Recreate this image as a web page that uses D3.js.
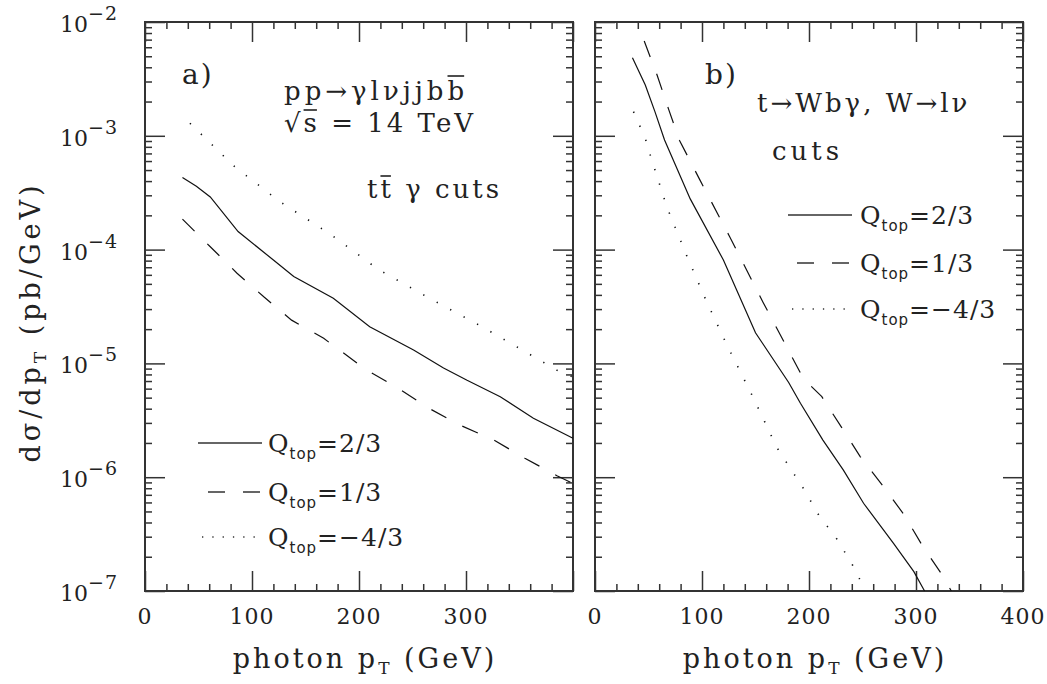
<!DOCTYPE html>
<html lang="en">
<head>
<meta charset="UTF-8">
<title>photon pT spectra</title>
<script src="https://cdn.jsdelivr.net/npm/d3@7"></script>
<style>
  body { margin: 0; background: #fff; }
  text { font-family: "DejaVu Serif", serif; fill: #222; }
</style>
</head>
<body>
<svg></svg>
<script>
// panel a) pp -> gamma l nu jj b bbar, ttbar-gamma cuts   [pT (GeV), dsigma/dpT (pb/GeV)]
var aQ23 = [[35, 4.3e-4], [48, 3.6e-4], [61, 2.9e-4], [87, 1.44e-4], [120, 8.1e-5], [139, 5.8e-5], [176, 3.73e-5],
            [210, 2.1e-5], [251, 1.31e-5], [279, 9.1e-6], [301, 7.1e-6], [332, 5.1e-6], [363, 3.3e-6], [400, 2.2e-6]];
var aQ13 = [[35, 1.85e-4], [61, 1.06e-4], [86, 6.2e-5], [111, 3.85e-5], [137, 2.4e-5], [167, 1.66e-5],
            [207, 8.75e-6], [235, 6.2e-6], [266, 4.0e-6], [294, 2.88e-6], [326, 2.12e-6], [355, 1.47e-6],
            [385, 1.03e-6], [400, 8.8e-7]];
var aQm43 = [[42, 1.29e-3], [83, 5.43e-4], [126, 2.64e-4], [173, 1.37e-4], [218, 6.7e-5], [266, 3.73e-5],
             [315, 2.1e-5], [363, 1.15e-5], [386, 8.6e-6], [400, 7.6e-6]];

// panel b) t -> W b gamma, W -> l nu
var bQ23 = [[35, 4.85e-3], [47, 2.79e-3], [56, 1.63e-3], [65, 9.2e-4], [89, 2.79e-4], [120, 8.1e-5],
            [150, 1.86e-5], [181, 6.8e-6], [192, 4.46e-6], [213, 2.12e-6], [232, 1.16e-6], [251, 5.9e-7],
            [279, 2.62e-7], [298, 1.48e-7], [308, 1.0e-7]];
var bQ13 = [[46, 6.8e-3], [58, 3.42e-3], [69, 1.69e-3], [79, 9.1e-4], [98, 4.1e-4], [126, 1.29e-4],
            [157, 3.45e-5], [195, 7.3e-6], [212, 5.1e-6], [230, 2.78e-6], [248, 1.51e-6], [269, 8.4e-7],
            [289, 4.66e-7], [306, 2.5e-7], [325, 1.36e-7], [333, 1.0e-7]];
var bQm43 = [[36, 1.63e-3], [47, 9.5e-4], [51, 7.06e-4], [67, 2.39e-4], [86, 8.7e-5], [103, 3.72e-5],
             [123, 1.47e-5], [148, 4.98e-6], [170, 1.82e-6], [195, 7.9e-7], [209, 4.66e-7], [226, 2.86e-7],
             [240, 1.74e-7], [253, 1.0e-7]];

var yMajor = [1e-7, 1e-6, 1e-5, 1e-4, 1e-3, 1e-2];
var yExp = ['−7', '−6', '−5', '−4', '−3', '−2'];
var xMajorA = [0, 100, 200, 300];
var xMajorB = [0, 100, 200, 300, 400];
var legendLabels = ['2/3', '1/3', '−4/3'];

var yTop = 22, yBottom = 591;
var svg = d3.select('svg').attr('width', 1047).attr('height', 684);

var y = d3.scaleLog().domain([1e-7, 1e-2]).range([yBottom, yTop]);
var xA = d3.scaleLinear().domain([0, 400]).range([145, 573]);
var xB = d3.scaleLinear().domain([0, 400]).range([595, 1023]);

var yMinor = [];
yMajor.slice(0, 5).forEach(function (d) {
	for (var k = 2; k <= 9; k++) yMinor.push(d * k);
});
var xMinor = d3.range(20, 400, 20).filter(function (d) { return d % 100 !== 0; });

var dashes = {solid: null, dashed: '17,18', dotted: '1.3,14'};

function tickAxis(axis, vals, size, tr) {
	var g = svg.append('g').attr('transform', tr)
		.call(axis.tickValues(vals).tickSize(size).tickFormat(''));
	g.select('.domain').remove();
	g.selectAll('line').attr('stroke', '#333').attr('stroke-width', 1.5);
}

function frame(x) {
	var x0 = x.range()[0], x1 = x.range()[1];
	tickAxis(d3.axisRight(y), yMajor, 20, 'translate(' + x0 + ',0)');
	tickAxis(d3.axisRight(y), yMinor, 7, 'translate(' + x0 + ',0)');
	tickAxis(d3.axisLeft(y), yMajor, 20, 'translate(' + x1 + ',0)');
	tickAxis(d3.axisLeft(y), yMinor, 7, 'translate(' + x1 + ',0)');
	tickAxis(d3.axisTop(x), [0, 100, 200, 300, 400], 20, 'translate(0,' + yBottom + ')');
	tickAxis(d3.axisTop(x), xMinor, 7, 'translate(0,' + yBottom + ')');
	tickAxis(d3.axisBottom(x), [0, 100, 200, 300, 400], 20, 'translate(0,' + yTop + ')');
	tickAxis(d3.axisBottom(x), xMinor, 7, 'translate(0,' + yTop + ')');
	svg.append('rect')
		.attr('x', x0).attr('y', yTop)
		.attr('width', x1 - x0).attr('height', yBottom - yTop)
		.attr('fill', 'none').attr('stroke', '#333').attr('stroke-width', 2);
}

function curve(x, data, style) {
	var line = d3.line()
		.x(function (d) { return x(d[0]); })
		.y(function (d) { return y(d[1]); });
	svg.append('path')
		.datum(data)
		.attr('fill', 'none')
		.attr('stroke', '#111')
		.attr('stroke-width', style === 'dotted' ? 1.6 : 1.2)
		.attr('stroke-dasharray', dashes[style])
		.attr('d', line);
}

function legend(xs, x2, ys, tx) {
	var styles = ['solid', 'dashed', 'dotted'];
	styles.forEach(function (s, i) {
		svg.append('line')
			.attr('x1', xs[i]).attr('x2', x2)
			.attr('y1', ys[i]).attr('y2', ys[i])
			.attr('stroke', '#333')
			.attr('stroke-width', s === 'dotted' ? 1.6 : 1.5)
			.attr('stroke-dasharray', s === 'dotted' ? '1.3,9' : dashes[s]);
		var t = svg.append('text').attr('x', tx).attr('y', ys[i] + 9)
			.style('font-size', '25px').style('letter-spacing', '1px');
		t.append('tspan').text('Q');
		t.append('tspan').attr('dy', 7).style('font-family', 'DejaVu Sans')
			.style('font-size', '15px').text('top');
		t.append('tspan').attr('dy', -7).text('=' + legendLabels[i]);
	});
}

frame(xA);
frame(xB);

// y tick labels
yMajor.forEach(function (d, i) {
	var t = svg.append('text').attr('x', 118).attr('y', y(d) + 10)
		.attr('text-anchor', 'end').style('font-size', '22px');
	t.append('tspan').text('10');
	t.append('tspan').attr('dy', -12).style('font-size', '19px')
		.style('letter-spacing', '1px').text(yExp[i]);
});

// x tick labels
xMajorA.forEach(function (d) {
	svg.append('text').attr('x', xA(d)).attr('y', 624).attr('text-anchor', 'middle')
		.style('font-size', '22px').style('letter-spacing', '1px').text(d);
});
xMajorB.forEach(function (d) {
	svg.append('text').attr('x', xB(d)).attr('y', 624).attr('text-anchor', 'middle')
		.style('font-size', '22px').style('letter-spacing', '1px').text(d);
});

// axis titles
[xA, xB].forEach(function (x) {
	var t = svg.append('text')
		.attr('x', (x.range()[0] + x.range()[1]) / 2 + 6).attr('y', 668)
		.attr('text-anchor', 'middle').style('font-size', '27px').style('letter-spacing', '3px');
	t.append('tspan').text('photon p');
	t.append('tspan').attr('dy', 6).style('font-size', '17px').text('T');
	t.append('tspan').attr('dy', -6).text(' (GeV)');
});

var yl = svg.append('text')
	.attr('transform', 'translate(40,322) rotate(-90)')
	.attr('text-anchor', 'middle').style('font-size', '27px').style('letter-spacing', '4px');
yl.append('tspan').text('dσ/dp');
yl.append('tspan').attr('dy', 6).style('font-size', '17px').text('T');
yl.append('tspan').attr('dy', -6).text(' (pb/GeV)');

// curves
curve(xA, aQ23, 'solid');
curve(xA, aQ13, 'dashed');
curve(xA, aQm43, 'dotted');
curve(xB, bQ23, 'solid');
curve(xB, bQ13, 'dashed');
curve(xB, bQm43, 'dotted');

// panel texts; parts flagged with a number get a bar drawn that far above the baseline
function label(x, yy, parts, size, ls) {
	var t = svg.append('text').attr('x', x).attr('y', yy)
		.style('font-size', (size || 26) + 'px').style('letter-spacing', (ls || 4) + 'px');
	var idx = 0, bars = [];
	parts.forEach(function (p) {
		t.append('tspan').text(p[0]);
		if (p[1]) bars.push([idx, p[0].length, p[1]]);
		idx += p[0].length;
	});
	var node = t.node();
	bars.forEach(function (b) {
		var x1 = node.getStartPositionOfChar(b[0]).x;
		var ext = node.getExtentOfChar(b[0] + b[1] - 1);
		svg.append('line')
			.attr('x1', x1 + (b[3] || 0)).attr('x2', ext.x + ext.width - (ls || 4))
			.attr('y1', yy - b[2]).attr('y2', yy - b[2])
			.attr('stroke', '#222').attr('stroke-width', 1.6);
	});
}
label(182, 84, [['a)']], 28, 2);
label(284, 100, [['pp→γlνjjb'], ['b', 24]]);
label(284, 132, [['√'], ['s', 22], [' = 14  TeV']], 26, 3);
label(367, 198, [['t'], ['t', 22], [' γ  cuts']], 26, 3);
label(705, 84, [['b)']], 28, 2);
label(757, 112, [['t→Wbγ,  W→lν']], 26, 3);
label(772, 160, [['cuts']], 26, 4);

legend([198, 208, 202], 262, [443, 492, 537], 268);
legend([788, 797, 792], 852, [215, 263, 309], 860);
</script>
</body>
</html>
